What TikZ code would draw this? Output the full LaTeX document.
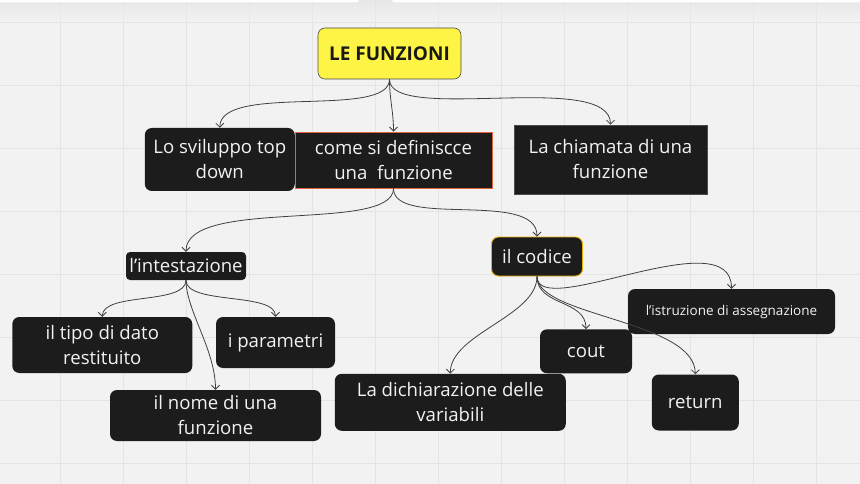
\documentclass[tikz,border=0pt]{standalone}
\usepackage{fontspec}
\setmainfont{Open Sans}[Ligatures=Common]
\usetikzlibrary{arrows.meta}
\definecolor{boardbg}{HTML}{F2F2F2}
\definecolor{gridline}{HTML}{E4E4E4}
\definecolor{cardfill}{HTML}{1C1C1C}
\definecolor{cardtext}{HTML}{F2F2F2}
\definecolor{stickyyellow}{HTML}{FEF445}
\definecolor{linkgray}{HTML}{404040}
\definecolor{redline}{HTML}{E0623E}
\definecolor{amberline}{HTML}{E8B10A}

\tikzset{
  card/.style={fill=cardfill, text=cardtext, rounded corners=7pt, inner sep=0pt,
    align=center, font=\fontsize{18.6}{25}\selectfont},
  squarecard/.style={card, sharp corners},
  link/.style={draw=linkgray, line width=0.8pt, ->},
}

\begin{document}
\begin{tikzpicture}[x=1pt, y=-1pt, >={Straight Barb[length=4pt,width=8pt]}]
  % Board
  \useasboundingbox (0,0) rectangle (860,484);
  \fill[boardbg] (0,0) rectangle (860,484);
  \foreach \gx in {-3,60,123,186,249,312,375,438,501,564,627,690,753,816} {
    \draw[gridline, line width=0.8pt] (\gx,0) -- (\gx,484);
  }
  \foreach \gy in {22.7,85.5,148.3,211,274,337,400,463} {
    \draw[gridline, line width=0.8pt] (0,\gy) -- (860,\gy);
  }
  \shade[top color=black!12, bottom color=boardbg, opacity=0.6] (0,0) rectangle (860,20);
  \fill[white, rounded corners=3pt] (-5,-5) rectangle (359,2.5);
  \fill[white, rounded corners=3pt] (392,-5) rectangle (865,2.5);

  % Nodes
  \node (funzioni) at (389.5, 53.5) [fill=stickyyellow, draw=black!70, line width=0.6pt,
    rounded corners=7pt, minimum width=143pt, minimum height=51pt,
    font=\fontsize{19}{22}\selectfont\bfseries, text=black!90] {LE FUNZIONI};

  \node (sviluppo) at (219.8, 159.5) [card, minimum width=150pt, minimum height=63pt]
    {Lo sviluppo top\\down};
  \node (definizione) at (393.5, 160) [squarecard, draw=redline, line width=0.9pt,
    minimum width=197pt, minimum height=56pt] {come si definiscce\\una\ \ funzione};
  \node (chiamata) at (610.5, 159.5) [squarecard, draw=black!70, line width=0.6pt,
    minimum width=193pt, minimum height=69pt] {La chiamata di una\\funzione};

  \node (intestazione) at (186, 266) [card, rounded corners=4pt,
    minimum width=120pt, minimum height=28pt] {l'intestazione};
  \node (codice) at (537, 256.5) [card, draw=amberline, line width=0.9pt,
    minimum width=91pt, minimum height=39pt] {il codice};

  \node (tipo) at (102.3, 345) [card, minimum width=180pt, minimum height=56pt]
    {il tipo di dato\\restituito};
  \node (parametri) at (275.5, 342.5) [card, minimum width=119pt, minimum height=51pt]
    {i parametri};
  \node (nome) at (215.5, 415.5) [card, minimum width=211pt, minimum height=51pt]
    {il nome di una\\funzione};

  \node (assegnazione) at (731.5, 311.5) [card, font=\fontsize{13.5}{16}\selectfont,
    minimum width=207pt, minimum height=45pt] {l’istruzione di assegnazione};
  \node (cout) at (586, 351.3) [card, minimum width=92pt, minimum height=44pt] {cout};
  \node (dichiarazione) at (450.3, 402.3) [card, minimum width=231pt, minimum height=57pt]
    {La dichiarazione delle\\variabili};
  \node (return) at (695.3, 402.5) [card, minimum width=87pt, minimum height=56pt] {return};

  % Edges
  \draw[link] (funzioni.south) .. controls +(0,40) and +(0,-45) .. (sviluppo.north);
  \draw[link] (funzioni.south) .. controls +(0,20) and +(0,-20) .. (definizione.north);
  \draw[link] (funzioni.south) .. controls +(0,45) and +(0,-55) .. (chiamata.north);

  \draw[link] (definizione.south) .. controls +(0,45) and +(0,-55) .. (intestazione.north);
  \draw[link] (definizione.south) .. controls +(0,40) and +(0,-47) .. (codice.north);

  \draw[link] (intestazione.south) .. controls +(0,25) and +(0,-25) .. (tipo.north);
  \draw[link] (intestazione.south) .. controls +(0,25) and +(0,-25) .. (parametri.north);
  \draw[link] (intestazione.south) .. controls +(0,30) and +(0,-40) .. (nome.north);

  \draw[link] (codice.south) .. controls +(0,40) and +(0,-40) .. (dichiarazione.north);
  \draw[link] (codice.south) .. controls +(0,30) and +(0,-30) .. (cout.north);
  \draw[link] (codice.south) .. controls +(0,40) and +(0,-54) .. (return.north);
  \draw[link] (codice.south) .. controls +(0,45) and +(0,-70) .. (assegnazione.north);
\end{tikzpicture}
\end{document}
